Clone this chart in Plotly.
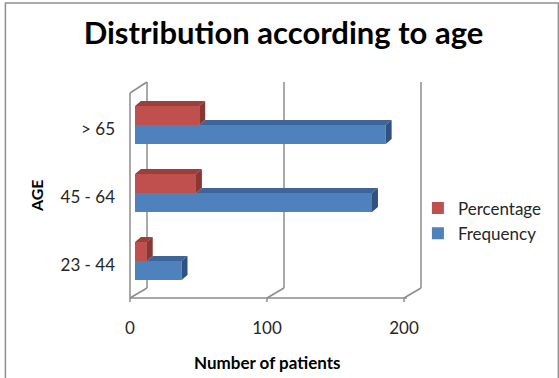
import plotly.graph_objects as go

# ---- data ----
categories = ["23 - 44", "45 - 64", "> 65"]
frequency = [34, 173, 183]
percentage = [8.6, 44.5, 46.9]
x_ticks = [0, 100, 200]
series_names = ["Frequency", "Percentage"]

RED = "#C0504D"
RED_TOP = "#9C3F3C"
RED_SIDE = "#8A3633"
BLUE = "#4F81BD"
BLUE_TOP = "#3D6598"
BLUE_SIDE = "#2F5282"
GRID = "#8C8C8C"
FONT = "Lato"

W, H = 559, 378
L, R, T, B = 135, 412, 91, 295
plot_w = R - L
plot_h = B - T
xmax = 200
px_per_unit = plot_w / xmax
cat_px = plot_h / len(categories)
bar_px = 19
bargap = 1 - 2 * bar_px / cat_px
dx_px, dy_px = 6, 5
d_units = dx_px / px_per_unit
# 3D frame geometry (pixels relative to the plot area)
fx, fy = -5, -3          # front edge offset
bx, by = 12, 7           # back edge offset
wall_front_top = 202
wall_back_top = 213

fig = go.Figure()
fig.add_trace(go.Bar(y=categories, x=frequency, name=series_names[0], orientation="h",
                     marker=dict(color=BLUE, line=dict(width=0)), legendgroup="f"))
fig.add_trace(go.Bar(y=categories, x=percentage, name=series_names[1], orientation="h",
                     marker=dict(color=RED, line=dict(width=0)), legendgroup="p"))

shapes = []


def frame_line(xa, x0, x1, y0, y1):
    return dict(type="line", layer="below", xref="paper", xsizemode="pixel", xanchor=xa,
                x0=x0, x1=x1, yref="paper", ysizemode="pixel", yanchor=0,
                y0=y0, y1=y1, line=dict(color=GRID, width=1.5))


for v in x_ticks:
    xa = v / xmax
    shapes.append(frame_line(xa, bx, bx, by, wall_back_top))      # back wall gridline
    shapes.append(frame_line(xa, fx, bx, fy, by))                  # floor slant
    shapes.append(frame_line(xa, fx, fx, fy, fy - 4))              # tick mark
shapes.append(frame_line(0, fx, fx + plot_w, fy, fy))               # front floor edge
shapes.append(frame_line(0, fx, fx, fy, wall_front_top))            # left wall front edge
shapes.append(frame_line(0, fx, bx, wall_front_top, wall_back_top)) # left wall top


def faces(cat, v, start, yb, yt, top_col, side_col):
    top = (f"M{start},{yt} L{start + d_units},{yt + dy_px} L{v + d_units},{yt + dy_px} "
           f"L{v},{yt} Z")
    side = (f"M{v},{yb} L{v + d_units},{yb + dy_px} L{v + d_units},{yt + dy_px} "
            f"L{v},{yt} Z")
    out = []
    for p, c in ((top, top_col), (side, side_col)):
        out.append(dict(type="path", path=p, xref="x", yref="y", ysizemode="pixel",
                         yanchor=cat, fillcolor=c, line=dict(width=0), layer="above"))
    return out


for c, f, p in zip(categories, frequency, percentage):
    shapes += faces(c, f, p, -bar_px, 0, BLUE_TOP, BLUE_SIDE)
for c, f, p in zip(categories, frequency, percentage):
    shapes += faces(c, p, 0, 0, bar_px, RED_TOP, RED_SIDE)

# outer chart border
shapes.append(dict(type="rect", xref="paper", yref="paper",
                   x0=(4 - L) / plot_w, x1=(W + 4 - L) / plot_w,
                   y0=(B - H - 4) / plot_h, y1=(B - 3) / plot_h,
                   line=dict(color="#8E8E8E", width=1.5), fillcolor="rgba(0,0,0,0)",
                   layer="below"))

fig.update_layout(
    width=W, height=H,
    margin=dict(l=L, r=W - R, t=T, b=H - B, pad=0),
    paper_bgcolor="white", plot_bgcolor="white",
    barmode="group", bargap=bargap, bargroupgap=0,
    font=dict(family=FONT, size=16, color="#262626"),
    title=dict(text="<b>Distribution according to age</b>", x=283.5 / W, xref="container",
               xanchor="center", y=1 - 33 / H, yref="container", yanchor="middle",
               font=dict(family=FONT, size=31, color="black")),
    xaxis=dict(range=[0, xmax], tickvals=x_ticks, showgrid=False, zeroline=False,
               showline=False, ticks="", ticklabelstandoff=21, ticklabelshift=fx,
               tickfont=dict(size=17, color="#262626"), fixedrange=True),
    yaxis=dict(categoryorder="array", categoryarray=categories, range=[-0.5, 2.5],
               showgrid=False, zeroline=False, showline=False, ticks="",
               ticklabelstandoff=19, ticklabelshift=4,
               tickfont=dict(size=17, color="#262626"), fixedrange=True),
    legend=dict(x=(421 - L) / plot_w, xanchor="left", y=(B - 221) / plot_h,
                yanchor="middle", traceorder="reversed", tracegroupgap=11,
                font=dict(size=17, color="#262626"), bgcolor="rgba(0,0,0,0)"),
    shapes=shapes,
    annotations=[
        dict(text="<b>Number of patients</b>", xref="paper", yref="paper",
             x=(268.5 - L) / plot_w, y=(B - 362) / plot_h, xanchor="center",
             yanchor="middle", showarrow=False, font=dict(size=17, color="black")),
        dict(text="<b>AGE</b>", xref="paper", yref="paper", x=(35 - L) / plot_w,
             y=(B - 196) / plot_h, xanchor="center", yanchor="middle", textangle=-90,
             showarrow=False, font=dict(size=16, color="black")),
    ],
)

fig.write_html("out.html")
